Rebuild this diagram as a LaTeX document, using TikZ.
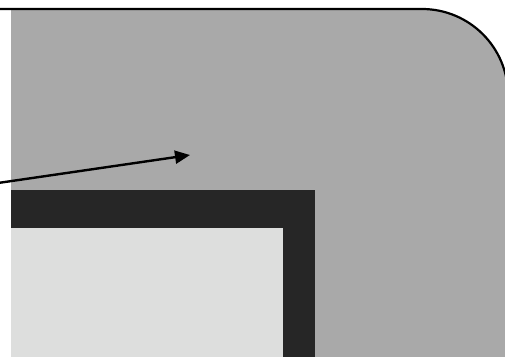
\documentclass[tikz,border=0pt]{standalone}
\usepackage{xcolor}
\definecolor{plaster}{HTML}{A9A9A9}
\definecolor{bezel}{HTML}{262626}
\definecolor{pane}{HTML}{DDDEDD}
\definecolor{ink}{HTML}{000000}
\usepackage{tikz}
\usetikzlibrary{arrows.meta}
\tikzset{
  >={Triangle[length=15pt,width=13pt]},
  wall/.style={fill=plaster},
  edge/.style={draw=ink,line width=2.2pt},
  frm/.style={fill=bezel},
  glass/.style={fill=pane},
  arr/.style={->,draw=ink,line width=2.4pt},
}
\begin{document}
\begin{tikzpicture}[x=1pt,y=-1pt]
\useasboundingbox (0,0) rectangle (505,356);
\begin{scope}
\clip (0,0) rectangle (505,356);
% textured wall
\fill[wall] (11,9) -- (422,9) arc[start angle=-90,end angle=0,radius=86] -- (508,380) -- (11,380) -- cycle;
\draw[edge] (-10,9) -- (422,9) arc[start angle=-90,end angle=0,radius=86] -- (508,380);
% dark frame and light pane
\fill[frm] (11,190) rectangle (315,380);
\fill[glass] (11,228) rectangle (283,380);
\end{scope}
% pointer
\coordinate (tail) at (-2,183);
\coordinate (head) at (190,155);
\draw[arr] (tail) -- (head);
\end{tikzpicture}
\end{document}
